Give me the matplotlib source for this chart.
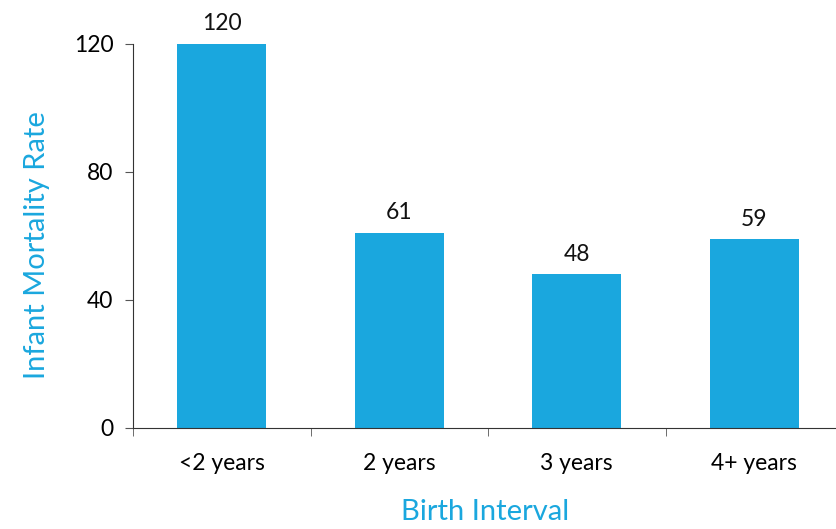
import numpy as np
import matplotlib
matplotlib.use('Agg')
import matplotlib.pyplot as plt

categories = ['<2 years', '2 years', '3 years', '4+ years']
rates = [120, 61, 48, 59]
yticks = [0, 40, 80, 120]

blue = '#1aa7de'
plt.rcParams['font.family'] = ['Lato', 'DejaVu Sans']

fig = plt.figure(figsize=(8.37, 5.29), dpi=100)
ax = fig.add_axes([133/837, 101/529, 710/837, 384/529])

x = np.arange(len(categories))
bars = ax.bar(x, rates, width=0.5, color=blue)
for xi, v in zip(x, rates):
    ax.text(xi, v + 3, str(v), ha='center', va='bottom', fontsize=16.5, color='#111111')

ax.set_xlim(-0.5, len(categories) - 0.5)
ax.set_ylim(0, 120)
ax.set_yticks(yticks)
ax.set_xticks(x)
ax.set_xticklabels(categories)
ax.set_xticks(np.arange(len(categories) + 1) - 0.5, minor=True)

ax.spines['top'].set_visible(False)
ax.spines['right'].set_visible(False)
ax.spines['left'].set_color('#333333')
ax.spines['bottom'].set_color('#333333')

ax.tick_params(axis='x', which='major', length=0, pad=18, labelsize=16.5)
ax.tick_params(axis='x', which='minor', length=6, color='#555555')
ax.tick_params(axis='y', length=6, pad=8, labelsize=16.5, color='#555555')

ax.set_xlabel('Birth Interval', fontsize=21)
ax.xaxis.label.set_color(blue)
ax.xaxis.set_label_coords(0.5 - 3/710, -71/384)
ax.set_ylabel('Infant Mortality Rate', fontsize=21, color=blue)
ax.yaxis.set_label_coords(-83/710, 0.477)

fig.savefig('out.png', dpi=100)
